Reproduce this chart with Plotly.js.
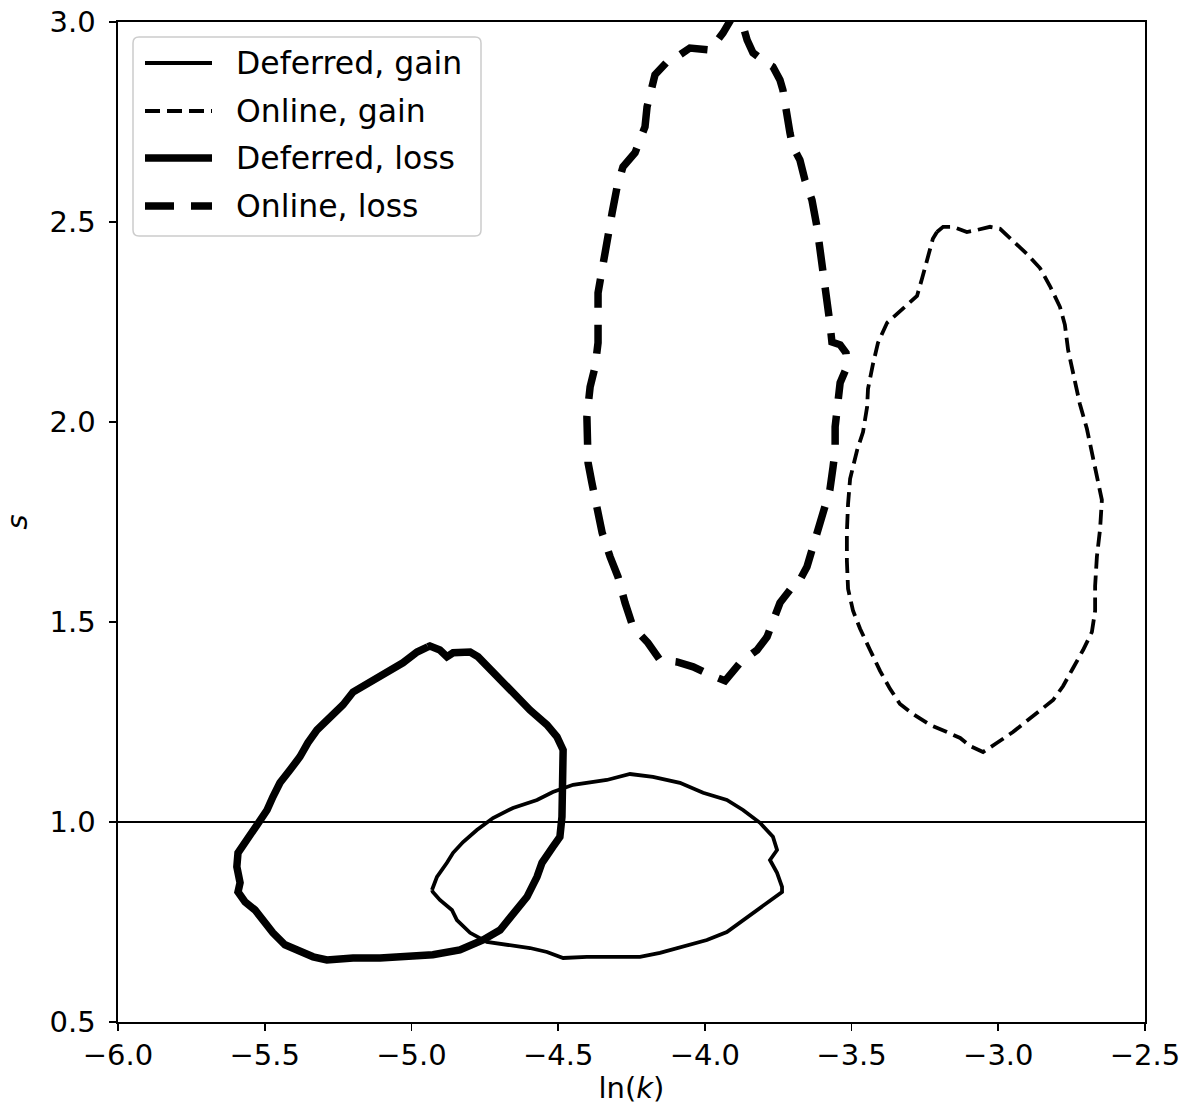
<!DOCTYPE html>
<html>
<head>
<meta charset="utf-8">
<script src="https://cdn.plot.ly/plotly-3.0.1.min.js"></script>
<style>html,body{margin:0;padding:0;background:#fff;}#chart{width:1192px;height:1108px;}</style>
</head>
<body>
<div id="chart"></div>
<script>
// ---- data ----
const seriesNames = ["Deferred, gain", "Online, gain", "Deferred, loss", "Online, loss"];

const deferredGainX = [-4.930,-4.913,-4.879,-4.858,-4.824,-4.777,-4.722,-4.654,-4.572,-4.518,-4.449,-4.334,-4.255,-4.177,-4.085,-4.006,-3.925,-3.870,-3.812,-3.768,-3.754,-3.778,-3.754,-3.737,-3.737,-3.788,-3.857,-3.925,-3.993,-4.085,-4.153,-4.221,-4.313,-4.402,-4.483,-4.538,-4.596,-4.674,-4.743,-4.800,-4.845,-4.862,-4.903,-4.927,-4.930];
const deferredGainY = [0.830,0.863,0.898,0.923,0.950,0.980,1.010,1.035,1.055,1.075,1.093,1.105,1.120,1.113,1.098,1.073,1.055,1.030,0.998,0.963,0.930,0.905,0.873,0.838,0.825,0.798,0.763,0.725,0.705,0.688,0.673,0.663,0.663,0.663,0.660,0.675,0.685,0.693,0.700,0.723,0.755,0.780,0.805,0.825,0.830];

const onlineGainX = [-3.209,-3.188,-3.154,-3.107,-3.073,-3.028,-2.994,-2.936,-2.902,-2.858,-2.824,-2.790,-2.773,-2.762,-2.745,-2.722,-2.698,-2.677,-2.660,-2.647,-2.653,-2.664,-2.670,-2.670,-2.681,-2.711,-2.745,-2.779,-2.813,-2.858,-2.902,-2.950,-3.004,-3.052,-3.096,-3.130,-3.175,-3.233,-3.291,-3.335,-3.369,-3.403,-3.437,-3.471,-3.495,-3.512,-3.516,-3.516,-3.512,-3.505,-3.481,-3.461,-3.447,-3.444,-3.427,-3.410,-3.379,-3.335,-3.277,-3.260,-3.243,-3.223,-3.209];
const onlineGainY = [2.475,2.488,2.488,2.475,2.480,2.488,2.483,2.443,2.420,2.385,2.340,2.288,2.243,2.180,2.118,2.045,1.983,1.913,1.858,1.805,1.733,1.663,1.590,1.528,1.475,1.430,1.385,1.340,1.305,1.278,1.253,1.225,1.198,1.175,1.190,1.210,1.225,1.243,1.270,1.295,1.333,1.378,1.430,1.483,1.528,1.583,1.653,1.725,1.795,1.858,1.930,1.975,2.038,2.083,2.145,2.198,2.248,2.278,2.315,2.358,2.403,2.458,2.475];

const deferredLossX = [-4.944,-4.981,-5.029,-5.083,-5.151,-5.199,-5.233,-5.278,-5.322,-5.353,-5.380,-5.414,-5.448,-5.472,-5.492,-5.526,-5.560,-5.591,-5.595,-5.584,-5.591,-5.567,-5.533,-5.506,-5.472,-5.431,-5.380,-5.335,-5.288,-5.199,-5.107,-5.015,-4.927,-4.835,-4.756,-4.698,-4.654,-4.606,-4.572,-4.555,-4.518,-4.494,-4.487,-4.487,-4.483,-4.483,-4.504,-4.538,-4.596,-4.640,-4.698,-4.743,-4.773,-4.800,-4.858,-4.879,-4.903,-4.937,-4.944];
const deferredLossY = [1.438,1.425,1.398,1.375,1.350,1.325,1.293,1.260,1.230,1.198,1.163,1.130,1.098,1.063,1.030,0.993,0.955,0.923,0.888,0.848,0.825,0.800,0.780,0.755,0.723,0.693,0.675,0.663,0.655,0.660,0.660,0.663,0.668,0.680,0.705,0.730,0.768,0.813,0.863,0.898,0.938,0.963,1.013,1.080,1.148,1.180,1.213,1.243,1.280,1.313,1.355,1.388,1.413,1.425,1.423,1.413,1.430,1.440,1.438];

const onlineLossX = [-3.900,-3.914,-3.938,-3.982,-4.051,-4.085,-4.129,-4.170,-4.187,-4.197,-4.204,-4.221,-4.238,-4.279,-4.299,-4.316,-4.333,-4.350,-4.364,-4.364,-4.364,-4.374,-4.391,-4.402,-4.402,-4.398,-4.385,-4.368,-4.350,-4.323,-4.296,-4.272,-4.245,-4.194,-4.153,-4.095,-4.040,-3.982,-3.931,-3.880,-3.822,-3.788,-3.768,-3.744,-3.710,-3.676,-3.652,-3.635,-3.614,-3.597,-3.574,-3.563,-3.556,-3.556,-3.550,-3.539,-3.516,-3.519,-3.539,-3.567,-3.574,-3.584,-3.597,-3.608,-3.618,-3.635,-3.659,-3.676,-3.700,-3.710,-3.720,-3.734,-3.744,-3.768,-3.795,-3.836,-3.856,-3.873,-3.900];
const onlineLossY = [3.020,3.000,2.973,2.930,2.935,2.918,2.900,2.868,2.823,2.788,2.738,2.705,2.673,2.638,2.588,2.523,2.455,2.388,2.323,2.255,2.198,2.138,2.088,2.013,1.955,1.898,1.848,1.780,1.723,1.663,1.613,1.548,1.488,1.448,1.405,1.400,1.388,1.368,1.353,1.398,1.430,1.463,1.505,1.548,1.580,1.605,1.638,1.680,1.738,1.788,1.830,1.888,1.930,1.988,2.048,2.098,2.138,2.173,2.193,2.200,2.248,2.305,2.363,2.423,2.488,2.555,2.605,2.655,2.688,2.723,2.773,2.830,2.855,2.888,2.900,2.923,2.955,2.998,3.020];

const referenceS = 1.0;
const xTickVals = [-6.0,-5.5,-5.0,-4.5,-4.0,-3.5,-3.0,-2.5];
const yTickVals = [0.5,1.0,1.5,2.0,2.5,3.0];

// ---- styles ----
const thinW = 3.8, thickW = 7.5;
const thinDash = "15px,7px", thickDash = "29px,17px";
const styles = [
  {width: thinW, dash: "solid"},
  {width: thinW, dash: thinDash},
  {width: thickW, dash: "solid"},
  {width: thickW, dash: thickDash}
];
const xs = [deferredGainX, onlineGainX, deferredLossX, onlineLossX];
const ys = [deferredGainY, onlineGainY, deferredLossY, onlineLossY];

const traces = seriesNames.map((n, i) => ({
  type: "scatter", mode: "lines", name: n, x: xs[i], y: ys[i],
  line: {color: "#000", width: styles[i].width, dash: styles[i].dash},
  showlegend: false, hoverinfo: "skip"
}));

const FONT = "DejaVu Sans, Liberation Sans, sans-serif";
const W = 1192, H = 1108, ML = 118, MR = 47, MT = 22, MB = 86;
const PW = W - ML - MR, PH = H - MT - MB;
const px2x = p => (p - ML) / PW;
const py2y = p => (H - MB - p) / PH;

// legend box (rounded) in paper coords
function roundRect(x0p, y0p, x1p, y1p, r) {
  const a = px2x(x0p), b = px2x(x1p), c = py2y(y1p), d = py2y(y0p);
  const rx = r / PW, ry = r / PH;
  return `M${a+rx},${c} L${b-rx},${c} Q${b},${c} ${b},${c+ry} L${b},${d-ry} Q${b},${d} ${b-rx},${d} L${a+rx},${d} Q${a},${d} ${a},${d-ry} L${a},${c+ry} Q${a},${c} ${a+rx},${c} Z`;
}

const shapes = [
  {type: "line", xref: "paper", yref: "y", x0: 0, x1: 1, y0: referenceS, y1: referenceS,
   line: {color: "#000", width: 1.8}, layer: "below"},
  {type: "path", xref: "paper", yref: "paper", path: roundRect(133, 37, 481, 236, 6),
   line: {color: "#cccccc", width: 1.5}, fillcolor: "rgba(255,255,255,0.8)", layer: "above"}
];
const rowY = [63, 111, 158, 206];
const annotations = [];
seriesNames.forEach((n, i) => {
  shapes.push({type: "line", xref: "paper", yref: "paper",
    x0: px2x(145), x1: px2x(212), y0: py2y(rowY[i]), y1: py2y(rowY[i]),
    line: {color: "#000", width: styles[i].width, dash: styles[i].dash}, layer: "above"});
  annotations.push({xref: "paper", yref: "paper", x: px2x(234), y: py2y(rowY[i]),
    xanchor: "left", yanchor: "middle", showarrow: false, text: n,
    font: {family: FONT, size: 31.5, color: "#000"}});
});

const layout = {
  width: W, height: H,
  margin: {l: ML, r: MR, t: MT, b: MB, pad: 0},
  paper_bgcolor: "#fff", plot_bgcolor: "#fff",
  font: {family: FONT, size: 29, color: "#000"},
  xaxis: {
    range: [-6, -2.5], tickvals: xTickVals, tickformat: ".1f",
    ticks: "outside", ticklen: 7, tickwidth: 1.6, tickcolor: "#000",
    showline: true, linecolor: "#000", linewidth: 1.6, mirror: true,
    showgrid: false, zeroline: false,
    tickfont: {family: FONT, size: 29, color: "#000"},
    title: {text: "ln(<i>k</i>)", font: {family: FONT, size: 29, color: "#000"}, standoff: 6}
  },
  yaxis: {
    range: [0.5, 3.0], tickvals: yTickVals, tickformat: ".1f",
    ticks: "outside", ticklen: 7, tickwidth: 1.6, tickcolor: "#000",
    showline: true, linecolor: "#000", linewidth: 1.6, mirror: true,
    showgrid: false, zeroline: false, ticklabelstandoff: 8,
    tickfont: {family: FONT, size: 29, color: "#000"},
    title: {text: "<i>s</i>", font: {family: FONT, size: 29, color: "#000"}, standoff: 26}
  },
  shapes: shapes,
  annotations: annotations,
  showlegend: false
};

Plotly.newPlot("chart", traces, layout, {displayModeBar: false, staticPlot: true});
</script>
</body>
</html>
